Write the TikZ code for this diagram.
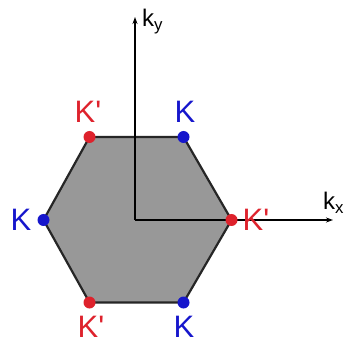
\documentclass[tikz,border=0pt]{standalone}
\usepackage{fontspec}
\newfontfamily\labfont{Liberation Sans}
\usetikzlibrary{arrows.meta}
\definecolor{kred}{RGB}{222,34,44}
\definecolor{kblue}{RGB}{22,22,204}
\definecolor{hexfill}{RGB}{152,152,152}
\tikzset{
  kdot/.style={circle,inner sep=0pt,minimum size=12pt},
  klab/.style={font=\labfont\fontsize{31}{33}\selectfont,inner sep=0pt},
  axlab/.style={font=\labfont\fontsize{24}{26}\selectfont,inner sep=0pt},
  axis/.style={line width=1.4pt,-{Stealth[length=7pt,width=5pt]}},
}
\begin{document}
\begin{tikzpicture}[x=1pt,y=1pt]
\useasboundingbox[fill=white] (0,0) rectangle (348,343);
\coordinate (V1) at (43.5,123);
\coordinate (V2) at (89.5,206);
\coordinate (V3) at (183.5,206);
\coordinate (V4) at (231.5,123);
\coordinate (V5) at (183.5,40.5);
\coordinate (V6) at (89.5,40.5);
\filldraw[fill=hexfill,draw=black!85,line width=2.2pt,line join=round]
  (V1) -- (V2) -- (V3) -- (V4) -- (V5) -- (V6) -- cycle;
\coordinate (O) at (135,123);
\coordinate (Ytop) at (135,326);
\coordinate (Xend) at (333,123);
\draw[axis] (O) -- (Ytop);
\draw[axis] (O) -- (Xend);
\node[axlab,anchor=base west] (ky) at (142,316) {k\textsubscript{y}};
\node[axlab,anchor=base west] (kx) at (323,133) {k\textsubscript{x}};
\node[kdot,fill=kblue] (d1) at (V1) {};
\node[kdot,fill=kred] (d2) at (V2) {};
\node[kdot,fill=kblue] (d3) at (V3) {};
\node[kdot,fill=kred] (d4) at (V4) {};
\node[kdot,fill=kblue] (d5) at (V5) {};
\node[kdot,fill=kred] (d6) at (V6) {};
\node[klab,text=kblue] (l1) at (21,123) {K};
\node[klab,text=kred] (l2) at (88,231) {K'};
\node[klab,text=kblue] (l3) at (185,231) {K};
\node[klab,text=kred] (l4) at (256,123) {K'};
\node[klab,text=kblue] (l5) at (184,16) {K};
\node[klab,text=kred] (l6) at (91,16) {K'};
\end{tikzpicture}
\end{document}
